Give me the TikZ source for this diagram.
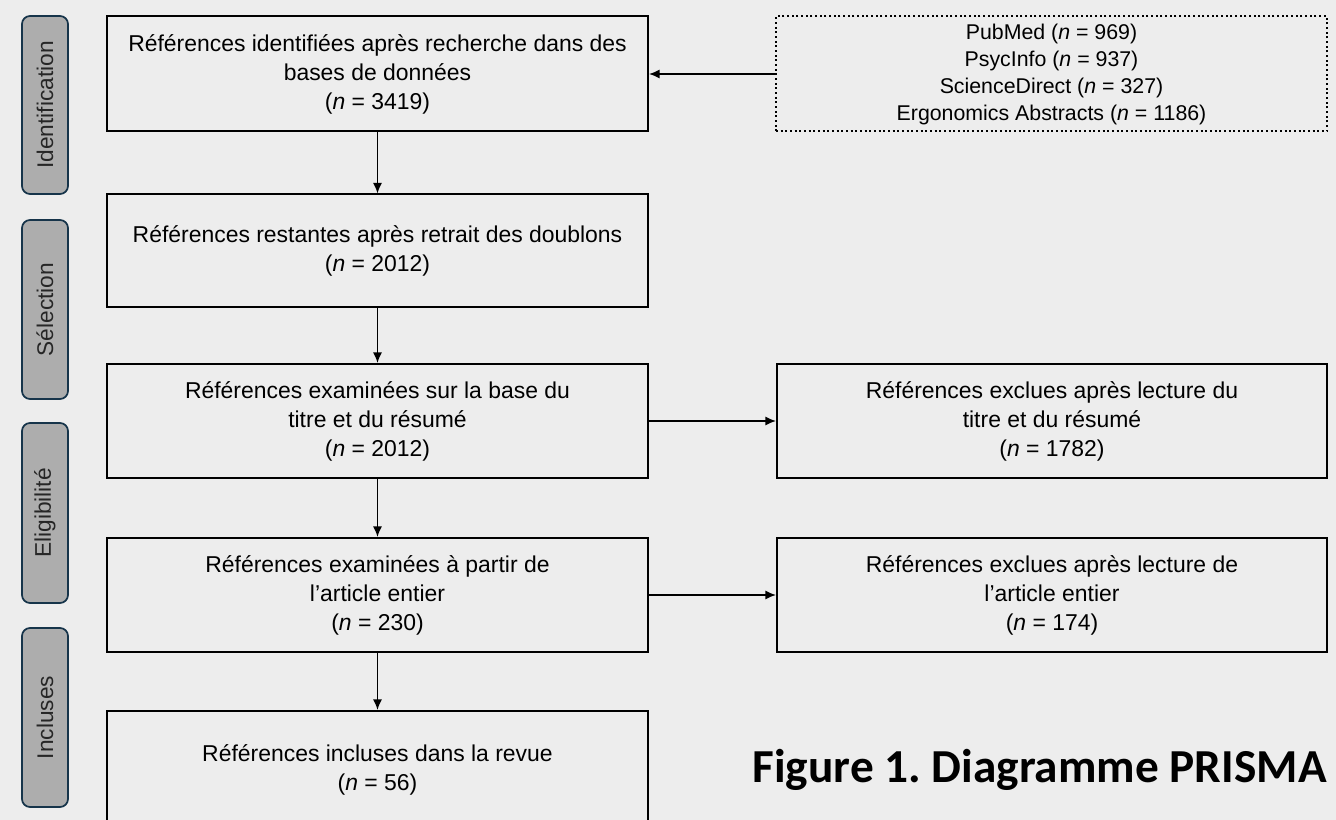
\documentclass[tikz,border=0pt]{standalone}
\usepackage{fontspec}
\setmainfont{Liberation Sans}
\newfontfamily\titlefont{Carlito}
\usetikzlibrary{arrows.meta}
\definecolor{bgc}{HTML}{EDEDED}
\definecolor{phasefill}{HTML}{ADADAD}
\definecolor{phaseedge}{HTML}{16344A}
\frenchspacing
\begin{document}
\begin{tikzpicture}[x=0.75pt,y=-0.75pt,
  mainbox/.style={draw=black, line width=1.5pt, rectangle, inner sep=0pt, align=center,
     font=\fontsize{17.2}{21.75}\selectfont, minimum width=405.75pt},
  sidebox/.style={draw=black, line width=1.5pt, rectangle, inner sep=0pt, align=center,
     font=\fontsize{17.2}{21.75}\selectfont, minimum width=412.5pt},
  srcbox/.style={draw=black, line width=1.5pt, dotted, rectangle, inner sep=0pt, align=center,
     font=\fontsize{16}{20.25}\selectfont, minimum width=413.25pt},
  phase/.style={draw=phaseedge, fill=phasefill, line width=1.3pt, rounded corners=6pt,
     minimum height=34.5pt, inner sep=0pt, rotate=90, text=black!85,
     font=\fontsize{17}{19}\selectfont},
  flow/.style={line width=1.3pt, -{Latex[length=8pt,width=7pt]}}
]
\useasboundingbox[fill=bgc] (0,0) rectangle (1336,820);

% phase labels
\node[phase, minimum width=133.5pt] (p1) at (45,105) {Identification};
\node[phase, minimum width=134.25pt] (p2) at (45,309.5) {Sélection};
\node[phase, minimum width=135pt] (p3) at (45,513) {Eligibilité};
\node[phase, minimum width=134.25pt] (p4) at (45,717.5) {Incluses};

% main column
\node[mainbox, minimum height=86.25pt] (b1) at (377.5,74) {Références identifiées après recherche dans des\\bases de données\\(\textit{n} = 3419)};
\node[mainbox, minimum height=84pt] (b2) at (377.5,250.5) {Références restantes après retrait des doublons\\(\textit{n} = 2012)};
\node[mainbox, minimum height=85.5pt] (b3) at (377.5,421) {Références examinées sur la base du\\titre et du résumé\\(\textit{n} = 2012)};
\node[mainbox, minimum height=85.5pt] (b4) at (377.5,595) {Références examinées à partir de\\l’article entier\\(\textit{n} = 230)};
\node[mainbox, minimum height=88.5pt] (b5) at (377.5,770) {Références incluses dans la revue\\(\textit{n} = 56)};

% right column
\node[srcbox, minimum height=86.25pt] (src) at (1051.5,74) {PubMed (\textit{n} = 969)\\PsycInfo (\textit{n} = 937)\\ScienceDirect (\textit{n} = 327)\\Ergonomics Abstracts (\textit{n} = 1186)};
\node[sidebox, minimum height=85.5pt] (e1) at (1052,421) {Références exclues après lecture du\\titre et du résumé\\(\textit{n} = 1782)};
\node[sidebox, minimum height=85.5pt] (e2) at (1052,595) {Références exclues après lecture de\\l’article entier\\(\textit{n} = 174)};

% connectors
\draw[flow] (src.west) -- (b1.east);
\draw[flow] (b1.south) -- (b2.north);
\draw[flow] (b2.south) -- (b3.north);
\draw[flow] (b3.south) -- (b4.north);
\draw[flow] (b4.south) -- (b5.north);
\draw[flow] (b3.east) -- (e1.west);
\draw[flow] (b4.east) -- (e2.west);

% title
\node[font=\titlefont\bfseries\fontsize{35.5}{40}\selectfont, anchor=east, inner sep=0pt] (title) at (1327,770) {Figure 1. Diagramme PRISMA};
\end{tikzpicture}
\end{document}
